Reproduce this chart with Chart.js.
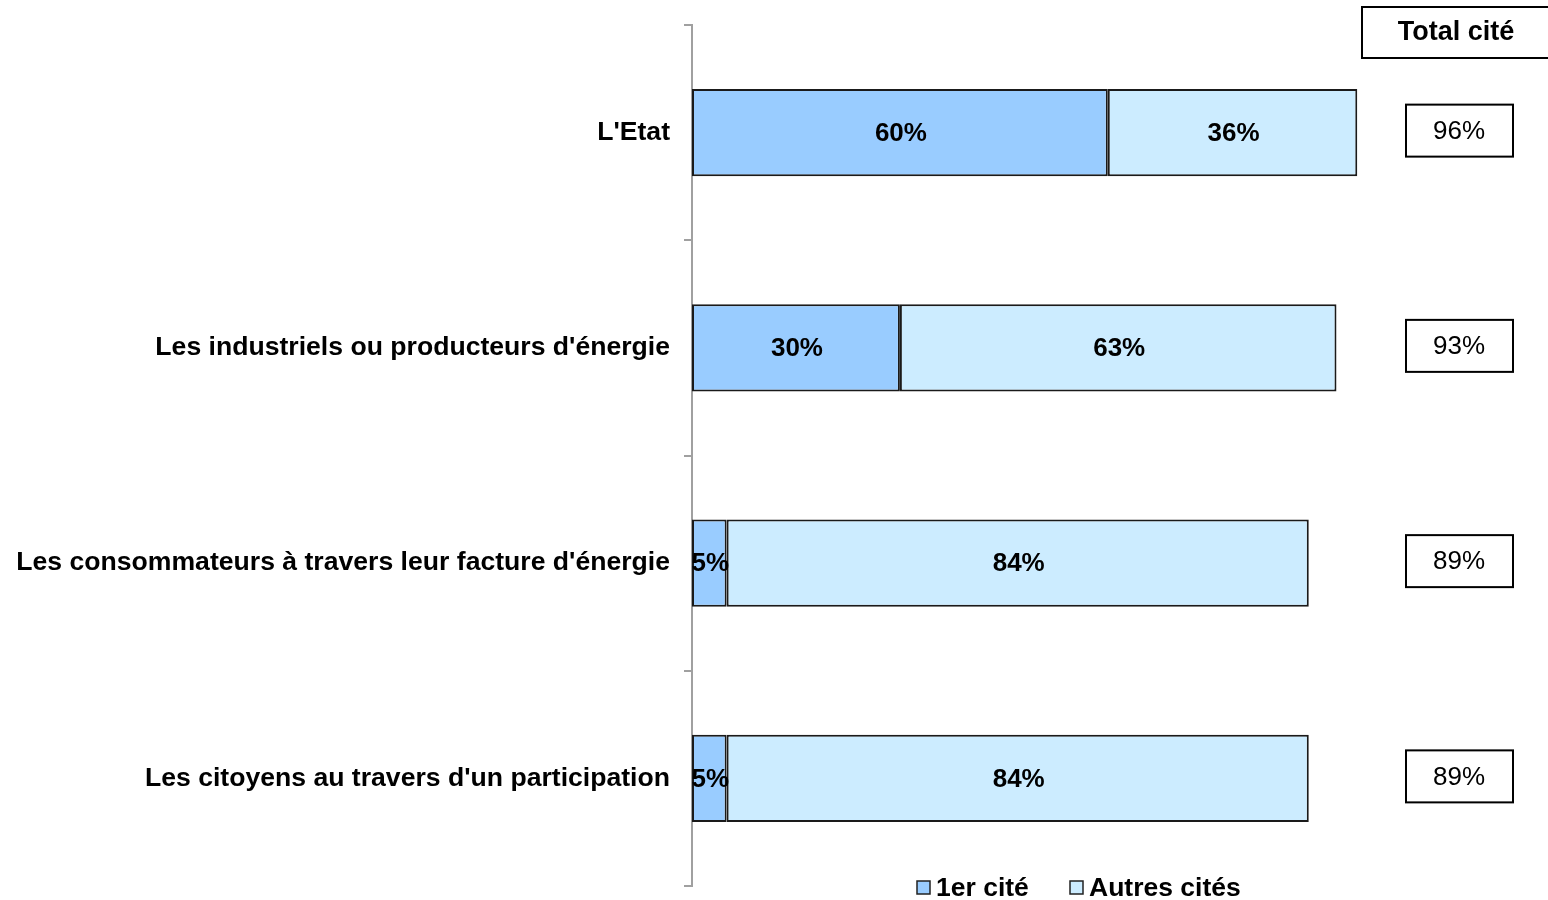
<!DOCTYPE html>
<html>
<head>
<meta charset="utf-8">
<script src="https://cdn.jsdelivr.net/npm/chart.js@4/dist/chart.umd.min.js"></script>
<style>
  html, body { margin: 0; padding: 0; background: #fff; }
  #wrap { width: 1548px; height: 900px; position: relative; }
</style>
</head>
<body>
<div id="wrap"><canvas id="bar-chart"></canvas></div>
<script>
// data
var categories = ["L'Etat", "Les industriels ou producteurs d'énergie", "Les consommateurs à travers leur facture d'énergie", "Les citoyens au travers d'un participation"]
var premierCite = [60, 30, 5, 5]
var autresCites = [36, 63, 84, 84]
var totalCite = [96, 93, 89, 89]
var seriesNames = ["1er cité", "Autres cités"]
var seriesColors = ["#99CCFF", "#CCECFF"]
var totalTitle = "Total cité"

var FONT = "'Liberation Sans', Arial, sans-serif"

// labels inside bars, total boxes, legend
var overlay = {
    id: 'overlay',
    afterDatasetsDraw: function (chart) {
        var ctx = chart.ctx
        ctx.save()
        ctx.fillStyle = "#000"
        ctx.textAlign = "center"
        ctx.textBaseline = "middle"
        ctx.font = "bold 26px " + FONT
        chart.data.datasets.forEach(function (ds, i) {
            var meta = chart.getDatasetMeta(i)
            meta.data.forEach(function (bar, j) {
                var x0 = bar.base, x1 = bar.x
                ctx.fillText(ds.data[j] + "%", (x0 + x1) / 2 + 1, bar.y + 1)
            })
        })

        // header box
        ctx.lineWidth = 2
        ctx.strokeStyle = "#000"
        ctx.strokeRect(1362, 7, 200, 51)
        ctx.font = "bold 27px " + FONT
        ctx.fillText(totalTitle, 1456, 33)

        // total boxes
        var meta0 = chart.getDatasetMeta(0)
        ctx.font = "26px " + FONT
        totalCite.forEach(function (v, j) {
            var cy = meta0.data[j].y - 2
            var cx = 1459
            ctx.strokeRect(cx - 53, cy - 26, 107, 52)
            ctx.fillText(v + "%", cx, cy + 1)
        })

        // legend
        var legendX = [917, 1070]
        ctx.textAlign = "left"
        ctx.font = "bold 26.5px " + FONT
        ctx.lineWidth = 1.5
        chart.data.datasets.forEach(function (ds, i) {
            var lx = legendX[i], ly = 888
            ctx.fillStyle = ds.backgroundColor
            ctx.fillRect(lx, ly - 7, 13, 13)
            ctx.strokeStyle = "#222"
            ctx.strokeRect(lx, ly - 7, 13, 13)
            ctx.fillStyle = "#000"
            ctx.fillText(ds.label, lx + 19, ly + 1)
        })
        ctx.restore()
    }
}

var barCanvas = document.getElementById("bar-chart").getContext("2d")

var barChart = new Chart(barCanvas, {
    type: 'bar',
    data: {
        labels: categories,
        datasets: [{
            label: seriesNames[0],
            data: premierCite,
            backgroundColor: seriesColors[0],
            borderColor: "#1a1a1a",
            borderWidth: 2,
            borderSkipped: false
        }, {
            label: seriesNames[1],
            data: autresCites,
            backgroundColor: seriesColors[1],
            borderColor: "#1a1a1a",
            borderWidth: 2,
            borderSkipped: false
        }]
    },
    options: {
        indexAxis: 'y',
        responsive: true,
        maintainAspectRatio: false,
        animation: false,
        layout: { padding: { left: 0, right: 163, top: 25, bottom: 14 } },
        datasets: { bar: { barPercentage: 0.405, categoryPercentage: 1 } },
        plugins: {
            legend: { display: false },
            tooltip: { enabled: false }
        },
        scales: {
            x: {
                stacked: true,
                display: false,
                min: 0,
                max: 100
            },
            y: {
                stacked: true,
                afterFit: function (scale) {
                    scale.width = 692
                    scale.paddingTop = 0
                    scale.paddingBottom = 0
                },
                border: { display: true, color: "#a0a0a0", width: 2 },
                grid: {
                    offset: true,
                    drawOnChartArea: false,
                    drawTicks: true,
                    tickLength: 8,
                    color: "#a0a0a0",
                    lineWidth: 2
                },
                ticks: {
                    color: "#000",
                    padding: 14,
                    font: { family: FONT, size: 26.6, weight: 'bold' }
                }
            }
        }
    },
    plugins: [overlay]
})
</script>
</body>
</html>
